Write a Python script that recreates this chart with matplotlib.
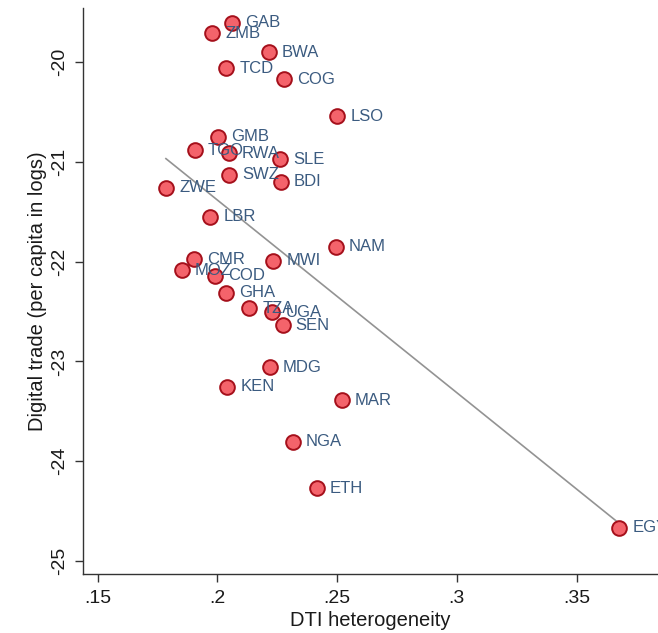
import numpy as np
import matplotlib
matplotlib.use("Agg")
import matplotlib.pyplot as plt

plt.rcParams['font.family'] = ['Liberation Sans', 'DejaVu Sans']

# country codes, DTI heterogeneity, digital trade per capita (logs)
countries = ["GAB", "ZMB", "BWA", "TCD", "COG", "LSO", "GMB", "TGO", "RWA", "SLE",
             "SWZ", "BDI", "ZWE", "LBR", "NAM", "CMR", "MWI", "MOZ", "COD", "GHA",
             "TZA", "UGA", "SEN", "MDG", "KEN", "MAR", "NGA", "ETH", "EGY"]
dti_het = [0.2060, 0.1979, 0.2215, 0.2036, 0.2279, 0.2500, 0.2004, 0.1906, 0.2048, 0.2261,
           0.2048, 0.2265, 0.1785, 0.1969, 0.2494, 0.1902, 0.2233, 0.1851, 0.1990, 0.2036,
           0.2132, 0.2229, 0.2272, 0.2219, 0.2041, 0.2519, 0.2314, 0.2414, 0.3678]
dig_trade = [-19.603, -19.709, -19.900, -20.060, -20.168, -20.539, -20.746, -20.880, -20.913, -20.973,
             -21.130, -21.198, -21.258, -21.549, -21.850, -21.976, -21.990, -22.083, -22.143, -22.311,
             -22.467, -22.508, -22.635, -23.059, -23.254, -23.387, -23.805, -24.273, -24.668]

x_ticks = [0.15, 0.2, 0.25, 0.3, 0.35]
x_ticklabels = [".15", ".2", ".25", ".3", ".35"]
y_ticks = [-25, -24, -23, -22, -21, -20]

x = np.array(dti_het)
y = np.array(dig_trade)

fig = plt.figure(figsize=(6.58, 6.33), dpi=100)
ax = fig.add_axes([0.1266, 0.0927, 0.8734, 0.8947])

# linear fit across the data range
b, a = np.polyfit(x, y, 1)
xs = np.array([x.min(), x.max()])
ax.plot(xs, a + b * xs, color='#939393', lw=1.2, zorder=1)

ax.scatter(x, y, s=112, facecolor='#f4636b', edgecolor='#a5101b', linewidths=1.4, zorder=2)
for name, xi, yi in zip(countries, x, y):
    ax.annotate(name, (xi, yi), xytext=(9.5, 0), textcoords='offset points',
                va='center', ha='left', fontsize=12, color='#3b5b80', zorder=3)

ax.set_xlim(0.1440, 0.3840)
ax.set_ylim(-25.135, -19.455)
ax.set_xticks(x_ticks)
ax.set_xticklabels(x_ticklabels)
ax.set_yticks(y_ticks)
ax.set_yticklabels([str(v) for v in y_ticks], rotation=90, va='center')

for s in ['top', 'right']:
    ax.spines[s].set_visible(False)
for s in ['left', 'bottom']:
    ax.spines[s].set_color('#333333')
    ax.spines[s].set_linewidth(1.0)
ax.tick_params(axis='both', direction='out', length=6, width=1, color='#333333',
               labelsize=14, labelcolor='#1a1a1a')
ax.tick_params(axis='x', pad=5)
ax.tick_params(axis='y', pad=5)

ax.set_xlabel("DTI heterogeneity", fontsize=14.5, color='#1a1a1a', labelpad=3)
ax.set_ylabel("Digital trade (per capita in logs)", fontsize=14.5, color='#1a1a1a', labelpad=3)

fig.savefig("out.png", dpi=100)
